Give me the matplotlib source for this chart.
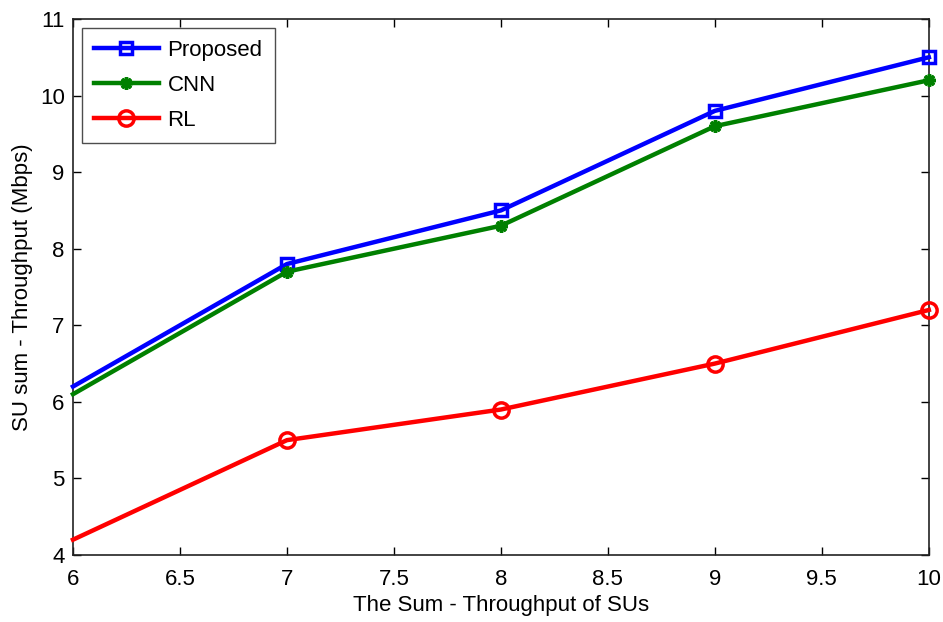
import matplotlib
matplotlib.use("Agg")
import matplotlib.pyplot as plt

x = [6, 7, 8, 9, 10]
proposed = [6.2, 7.8, 8.5, 9.8, 10.5]
cnn = [6.1, 7.7, 8.3, 9.6, 10.2]
rl = [4.2, 5.5, 5.9, 6.5, 7.2]
xticks = [6, 6.5, 7, 7.5, 8, 8.5, 9, 9.5, 10]
xtick_labels = ["6", "6.5", "7", "7.5", "8", "8.5", "9", "9.5", "10"]
yticks = [4, 5, 6, 7, 8, 9, 10, 11]

plt.rcParams['font.family'] = ['Liberation Sans', 'DejaVu Sans']

fig = plt.figure(figsize=(9.43, 6.22), dpi=100)
ax = fig.add_axes([0.0774, 0.1077, 0.9076, 0.8618])

lw = 3.2
ax.plot(x, proposed, color='#0000ff', lw=lw, marker='s', ms=8, mfc='none', mew=2.5,
        markevery=[1, 2, 3, 4], label='Proposed', clip_on=False, zorder=3)
ax.plot(x, cnn, color='#008000', lw=lw, marker=(8, 2, 0), ms=9, mew=2.5,
        markevery=[1, 2, 3, 4], label='CNN', clip_on=False, zorder=3)
ax.plot(x, rl, color='#ff0000', lw=lw, marker='o', ms=11, mfc='none', mew=2.5,
        markevery=[1, 2, 3, 4], label='RL', clip_on=False, zorder=3)

ax.set_xlim(6, 10)
ax.set_ylim(4, 11)
ax.set_xticks(xticks)
ax.set_xticklabels(xtick_labels)
ax.set_yticks(yticks)
ax.tick_params(direction='in', top=True, right=True, labelsize=16, length=6, width=1, pad=6)
ax.tick_params(axis='x', pad=10)
for s in ax.spines.values():
    s.set_linewidth(1.2)
    s.set_color('#222222')

ax.set_xlabel('The Sum - Throughput of SUs', fontsize=16, labelpad=4)
ax.set_ylabel('SU sum - Throughput (Mbps)', fontsize=16, labelpad=5)

leg = ax.legend(loc='upper left', fontsize=16, frameon=True, fancybox=False,
                edgecolor='#222222', handlelength=2.9, handletextpad=0.4,
                borderpad=0.55, labelspacing=0.62, borderaxespad=0.4)
leg.get_frame().set_linewidth(1.0)

fig.savefig('out.png', dpi=100)
